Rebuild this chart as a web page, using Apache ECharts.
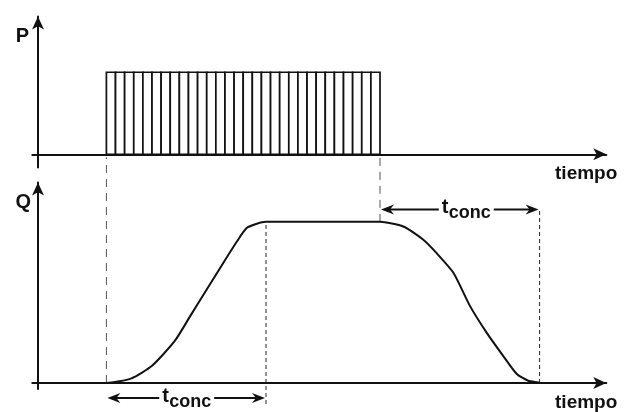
<!DOCTYPE html>
<html>
<head>
<meta charset="utf-8">
<script src="https://cdn.jsdelivr.net/npm/echarts@6/dist/echarts.min.js"></script>
<style>
  html, body { margin: 0; padding: 0; background: #fff; }
  #chart { width: 630px; height: 412px; }
</style>
</head>
<body>
<div id="chart"></div>
<script>
// Rainfall pulse P(t) and the outflow hydrograph Q(t) it produces.
const rainStart = 12;
const rainEnd = 60;
const tConc = 28;

// Uniform rainfall blocks between rainStart and rainEnd
const rainPulses = [1, 1, 1, 1, 1, 1, 1, 1, 1, 1,
                    1, 1, 1, 1, 1, 1, 1, 1, 1, 1,
                    1, 1, 1, 1, 1, 1, 1, 1, 1, 1];

// Hydrograph: time and relative discharge
const hydroTime = [0, 12, 16.4, 20, 24, 26.7, 29.6, 32.5, 34.9, 36.6, 38.4, 40,
                   60, 64.1, 67.6, 69.9, 72.9, 75.8, 78.7, 81.6, 84, 86, 87.8, 88, 96];
const hydroFlow = [0, 0, 0.029, 0.107, 0.261, 0.415, 0.58, 0.745, 0.878, 0.961, 0.988, 1,
                   1, 0.971, 0.889, 0.807, 0.683, 0.477, 0.313, 0.169, 0.056, 0.014, 0.004, 0, 0];

// Vertical guides: time, Q from, Q to, style kind
const guideTimes = [rainStart, rainStart + tConc, rainEnd, rainEnd + tConc];
const guideFrom = [0, -0.13, 1, 0];
const guideTo = [1.40, 1, 1.40, 1.086];
const guideKind = [0, 1, 0, 1];

// Concentration-time dimension arrows: from, to, Q level
const arrowFrom = [rainStart, rainEnd];
const arrowTo = [rainStart + tConc, rainEnd + tConc];
const arrowLevel = [-0.093, 1.077];

const labelP = 'P';
const labelQ = 'Q';
const labelTime = 'tiempo';
const labelT = 't';
const labelConc = 'conc';

const FONT = '"Liberation Sans", Arial, Helvetica, sans-serif';
const INK = '#111';

const chart = echarts.init(document.getElementById('chart'), null, { renderer: 'canvas' });

function axisLineStyle() {
  return {
    show: true,
    onZero: true,
    symbol: ['none', 'arrow'],
    symbolSize: [9, 13],
    lineStyle: { color: INK, width: 2 }
  };
}

function xAxisFor(gridIndex) {
  return {
    type: 'value', gridIndex, min: -1, max: 99.7,
    axisLine: axisLineStyle(),
    axisTick: { show: false }, axisLabel: { show: false }, splitLine: { show: false },
    name: labelTime, nameLocation: 'end', nameGap: 11,
    nameTextStyle: {
      color: INK, fontFamily: FONT, fontWeight: 'bold', fontSize: 19,
      align: 'right', verticalAlign: 'top', padding: [10, 0, 0, 0]
    }
  };
}

function yAxisFor(gridIndex, min, max, name, gap, padRight) {
  return {
    type: 'value', gridIndex, min, max,
    axisLine: axisLineStyle(),
    axisTick: { show: false }, axisLabel: { show: false }, splitLine: { show: false },
    name, nameLocation: 'end', nameGap: gap,
    nameTextStyle: {
      color: INK, fontFamily: FONT, fontWeight: 'bold', fontSize: 20,
      align: 'right', verticalAlign: 'top', padding: [0, padRight, 0, 0]
    }
  };
}

function arrowHead(x, y, dir) {
  return {
    type: 'polygon',
    shape: { points: [[x, y], [x - dir * 13, y - 5], [x - dir * 9, y], [x - dir * 13, y + 5]] },
    style: { fill: INK }
  };
}

const option = {
  animation: false,
  backgroundColor: '#fff',
  grid: [
    { left: 32.3, width: 574, top: 16.5, height: 150.9 },
    { left: 32.3, width: 574, top: 182.5, height: 207.5 }
  ],
  xAxis: [xAxisFor(0), xAxisFor(1)],
  yAxis: [
    yAxisFor(0, -0.16, 1.68, labelP, -10, 9),
    yAxisFor(1, -0.037, 1.244, labelQ, -10, 7)
  ],
  series: [
    {
      // rainfall blocks
      type: 'custom', xAxisIndex: 0, yAxisIndex: 0,
      data: rainPulses.map((p, i) => [i, p]),
      encode: { x: 0, y: 1 },
      renderItem(params, api) {
        const i = api.value(0);
        const dt = (rainEnd - rainStart) / rainPulses.length;
        const t0 = rainStart + i * dt;
        const a = api.coord([t0, api.value(1)]);
        const b = api.coord([t0 + dt, 0]);
        return {
          type: 'rect',
          shape: { x: a[0], y: a[1], width: b[0] - a[0], height: b[1] - a[1] },
          style: { fill: '#fff', stroke: INK, lineWidth: 1.7 }
        };
      }
    },
    {
      // vertical dashed guides
      type: 'custom', xAxisIndex: 1, yAxisIndex: 1, clip: false, z: 1,
      data: guideTimes.map((t, i) => [t, guideFrom[i], guideTo[i], guideKind[i]]),
      encode: { x: 0, y: 1 },
      renderItem(params, api) {
        const t = api.value(0);
        const a = api.coord([t, api.value(1)]);
        const b = api.coord([t, api.value(2)]);
        const kind = api.value(3);
        return {
          type: 'line',
          shape: { x1: a[0], y1: a[1], x2: b[0], y2: b[1] },
          style: {
            stroke: kind ? '#222' : '#555',
            lineWidth: 1,
            lineDash: kind ? [4, 3] : [8, 6]
          }
        };
      }
    },
    {
      // hydrograph
      type: 'line', xAxisIndex: 1, yAxisIndex: 1, z: 3,
      data: hydroTime.map((t, i) => [t, hydroFlow[i]]),
      showSymbol: false, symbol: 'none',
      smooth: 0.2,
      lineStyle: { color: INK, width: 2 }
    },
    {
      // t_conc dimension arrows
      type: 'custom', xAxisIndex: 1, yAxisIndex: 1, clip: false, z: 4,
      data: arrowFrom.map((t, i) => [t, arrowTo[i], arrowLevel[i]]),
      encode: { x: 0, y: 2 },
      renderItem(params, api) {
        const a = api.coord([api.value(0), api.value(2)]);
        const b = api.coord([api.value(1), api.value(2)]);
        const y = a[1];
        const x0 = a[0] + 1, x1 = b[0] - 1;
        const cx = (x0 + x1) / 2 + (params.dataIndex === 1 ? 7 : 1);
        return {
          type: 'group',
          children: [
            { type: 'line', shape: { x1: x0 + 8, y1: y, x2: x1 - 8, y2: y },
              style: { stroke: INK, lineWidth: 2 } },
            arrowHead(x0, y, -1),
            arrowHead(x1, y, 1),
            { type: 'rect', shape: { x: cx - 28, y: y - 11, width: 55, height: 22 },
              style: { fill: '#fff' } },
            { type: 'text', x: cx - 25, y: y - 2,
              style: { text: labelT, font: 'bold 20px ' + FONT, fill: INK,
                       align: 'left', verticalAlign: 'middle' } },
            { type: 'text', x: cx - 18, y: y + 4,
              style: { text: labelConc, font: 'bold 18px ' + FONT, fill: INK,
                       align: 'left', verticalAlign: 'middle' } }
          ]
        };
      }
    }
  ]
};

chart.setOption(option);
</script>
</body>
</html>
